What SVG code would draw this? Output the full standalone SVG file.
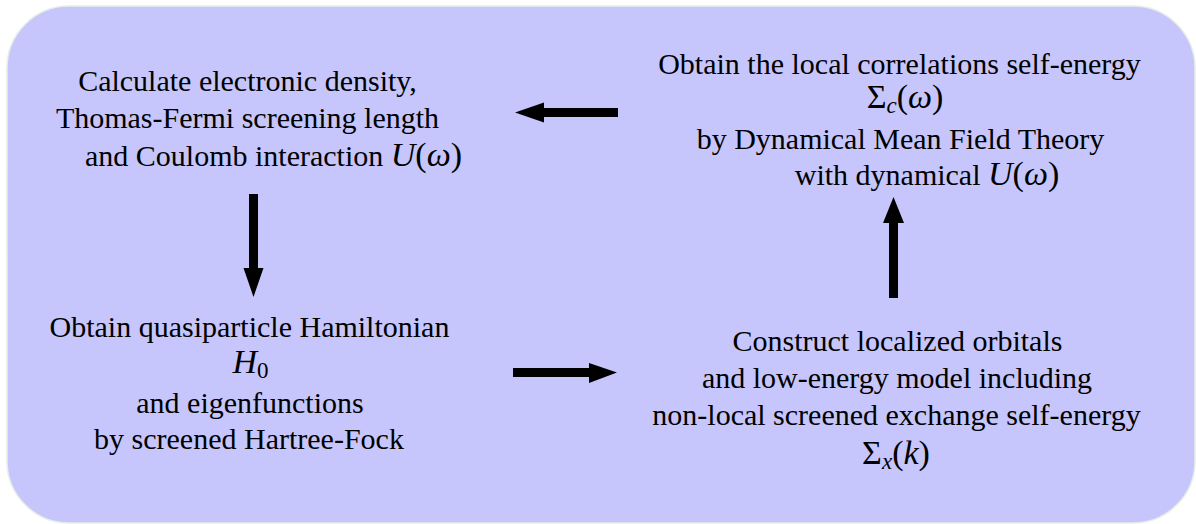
<svg xmlns="http://www.w3.org/2000/svg" width="1196" height="524" viewBox="0 0 1196 524">
<style>
text{font-family:"Liberation Serif","Times New Roman",Times,serif}
.t{font-size:30px;fill:#000;text-anchor:middle}
.m{font-size:34px}
.mi{font-size:34px;font-style:italic}
.sub{font-size:23px;font-style:italic}
.subr{font-size:23px}
.arr{fill:#000;stroke:none}
</style>
<rect x="0" y="0" width="1196" height="524" fill="#ffffff"/>
<rect id="panel" x="7" y="6" width="1188" height="517" rx="62" ry="62" fill="#c6c6fc" stroke="#e6eee6" stroke-width="1.5"/>
<g id="connectors">
<path class="arr" d="M618,108 L544,108 L544,102.5 L515,112.5 L544,122.5 L544,117 L618,117 Z"/>
<path class="arr" d="M249,194 L258,194 L258,268 L263.5,268 L253.5,297 L243.5,268 L249,268 Z"/>
<path class="arr" d="M513,368 L589,368 L589,363 L617,372.5 L589,383 L589,377 L513,377 Z"/>
<path class="arr" d="M889,298 L898,298 L898,223 L904,223 L893.5,197 L883,223 L889,223 Z"/>
</g>
<g id="node-density" font-family="Liberation Serif, serif">
<text class="t" x="247.5" y="91">Calculate electronic density,</text>
<text class="t" x="247.5" y="128">Thomas-Fermi screening length</text>
<text class="t" x="273.5" y="166">and Coulomb interaction <tspan class="mi">U</tspan><tspan class="m">(</tspan><tspan class="mi">ω</tspan><tspan class="m">)</tspan></text>
</g>
<g id="node-dmft" font-family="Liberation Serif, serif">
<text class="t" x="899.5" y="74">Obtain the local correlations self-energy</text>
<text class="t" x="905" y="108"><tspan class="m">Σ</tspan><tspan class="sub" dy="5">c</tspan><tspan class="m" dy="-5">(</tspan><tspan class="mi">ω</tspan><tspan class="m">)</tspan></text>
<text class="t" x="900.5" y="149">by Dynamical Mean Field Theory</text>
<text class="t" x="927" y="185">with dynamical <tspan class="mi">U</tspan><tspan class="m">(</tspan><tspan class="mi">ω</tspan><tspan class="m">)</tspan></text>
</g>
<g id="node-hf" font-family="Liberation Serif, serif">
<text class="t" x="249.5" y="337">Obtain quasiparticle Hamiltonian</text>
<text class="t" x="250.5" y="373"><tspan class="mi">H</tspan><tspan class="subr" dy="5">0</tspan></text>
<text class="t" x="250" y="413">and eigenfunctions</text>
<text class="t" x="249" y="449">by screened Hartree-Fock</text>
</g>
<g id="node-model" font-family="Liberation Serif, serif">
<text class="t" x="897.5" y="351">Construct localized orbitals</text>
<text class="t" x="897" y="388">and low-energy model including</text>
<text class="t" x="896.5" y="425">non-local screened exchange self-energy</text>
<text class="t" x="896" y="464"><tspan class="m">Σ</tspan><tspan class="sub" dy="5">x</tspan><tspan class="m" dy="-5">(</tspan><tspan class="mi">k</tspan><tspan class="m">)</tspan></text>
</g>
</svg>
